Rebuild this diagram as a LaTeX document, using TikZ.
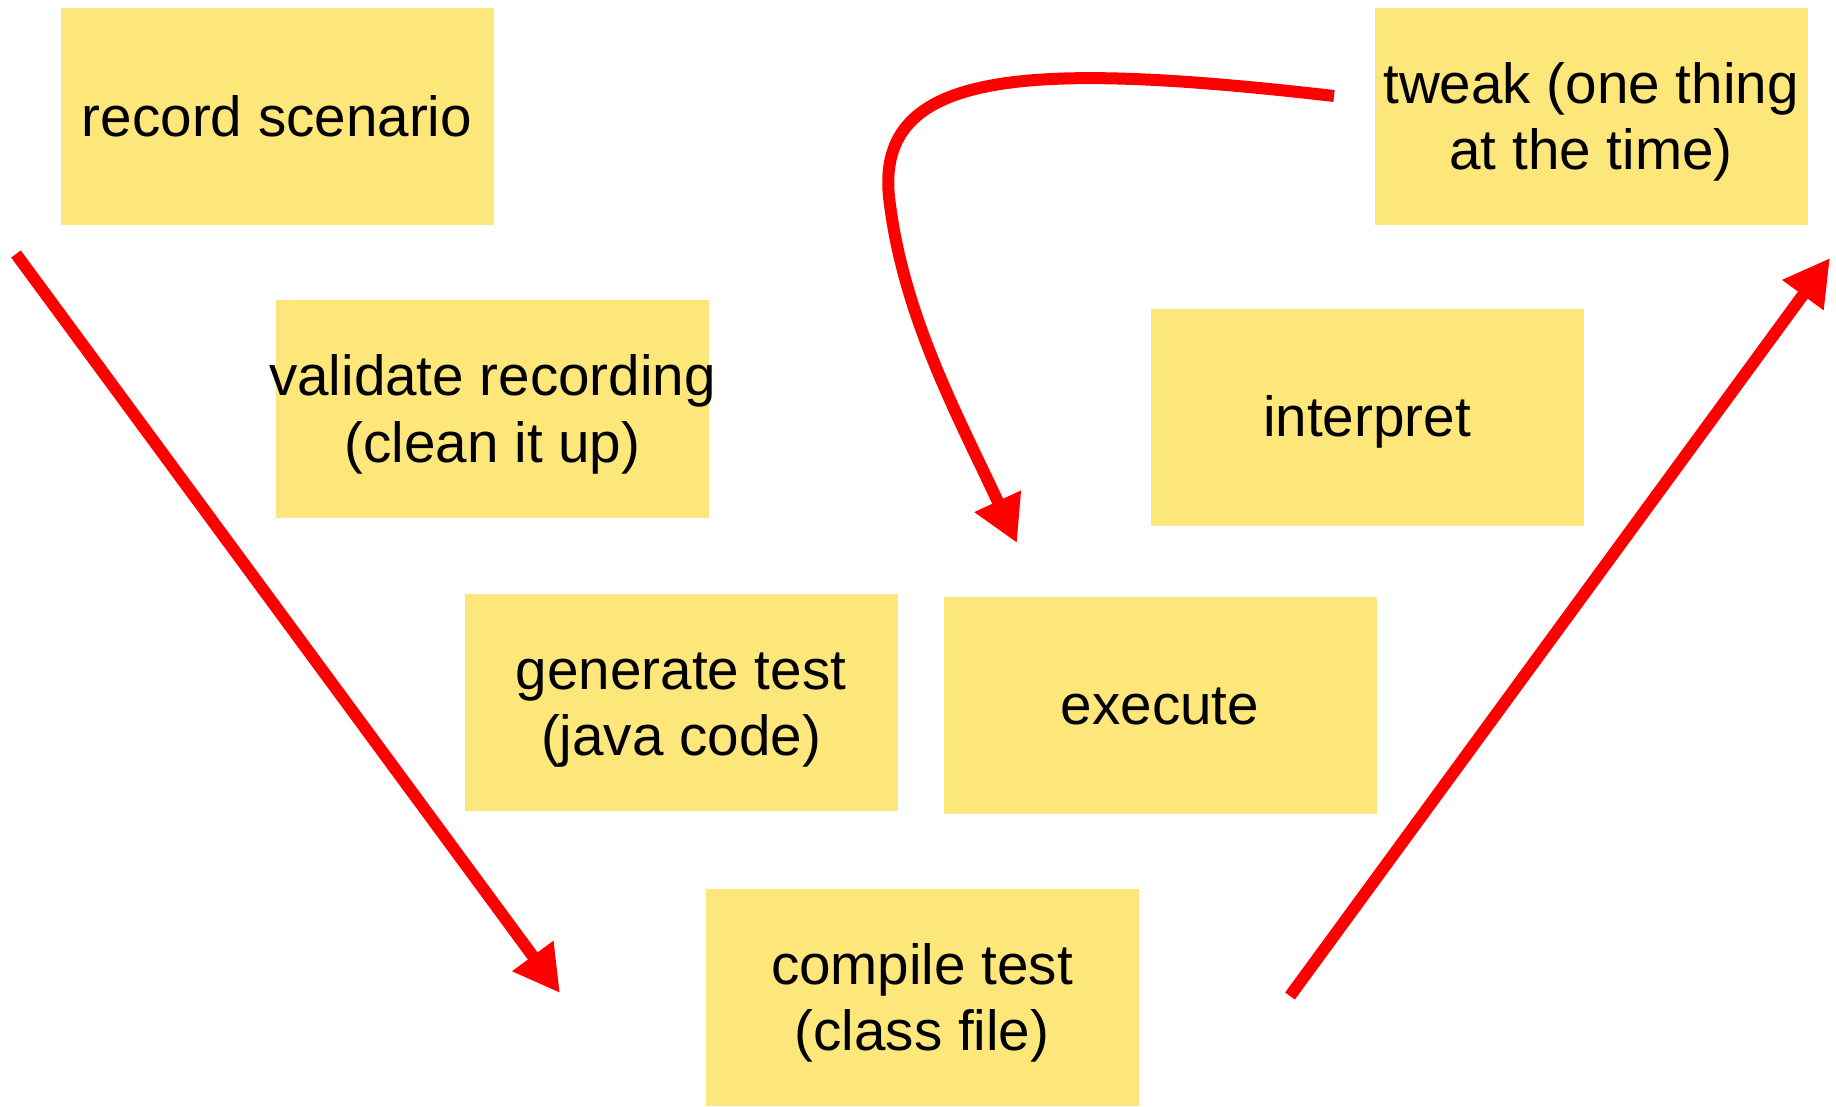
\documentclass[tikz,border=0pt]{standalone}
\usepackage{fontspec}
\setmainfont{Liberation Sans}
\usetikzlibrary{arrows.meta}
\definecolor{stickyyellow}{RGB}{253,230,122}
\definecolor{arrowred}{RGB}{255,0,0}
\newcommand{\stickytext}[1]{\raisebox{-3.3pt}[\height][\depth]{\begin{tabular}{@{}c@{}}#1\end{tabular}}}
\begin{document}
\begin{tikzpicture}[x=0.5pt,y=-0.5pt,
  stickybox/.style={fill=stickyyellow,draw=none,minimum width=216.5pt,minimum height=108.5pt,
    inner sep=0pt,font=\fontsize{28.3pt}{33.4pt}\selectfont},
  redarrow/.style={draw=arrowred,line width=6pt,
    -{Triangle[length=23pt,width=24pt]}}]
\useasboundingbox (0,0) rectangle (1836,1107);
\node[stickybox] (record) at (277,116.5) {\stickytext{record scenario}};
\node[stickybox] (validate) at (492.5,409) {\stickytext{\makebox[0pt]{validate recording}\\(clean it up)}};
\node[stickybox] (generate) at (681,702.5) {\stickytext{generate test\\(java code)}};
\node[stickybox] (execute) at (1160,705) {\stickytext{execute}};
\node[stickybox] (interpret) at (1367,417) {\stickytext{interpret}};
\node[stickybox] (compile) at (922,997.5) {\stickytext{compile test\\(class file)}};
\node[stickybox] (tweak) at (1591,116.5) {\stickytext{tweak (one thing\\at the time)}};
\coordinate (downstart) at (16,254);
\coordinate (downend) at (560,993);
\coordinate (upstart) at (1290,996);
\coordinate (upend) at (1830,258);
\coordinate (loopstart) at (1334,96);
\coordinate (loopmid) at (890,205);
\coordinate (loopend) at (1017,543);
\draw[redarrow] (downstart) -- (downend);
\draw[redarrow] (upstart) -- (upend);
\draw[redarrow] (loopstart) .. controls (1020,60) and (870,70) .. (loopmid)
  .. controls (905,320) and (960,420) .. (loopend);
\end{tikzpicture}
\end{document}
